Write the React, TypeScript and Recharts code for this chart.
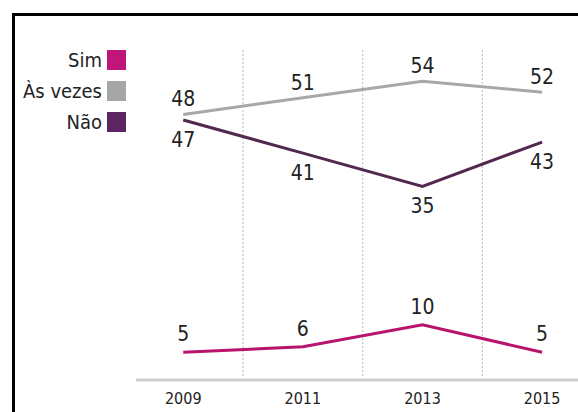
import { LineChart, Line, XAxis, YAxis, ReferenceLine, LabelList } from "recharts";

const years = [2009, 2011, 2013, 2015];
const sim = [5, 6, 10, 5];
const asVezes = [48, 51, 54, 52];
const nao = [47, 41, 35, 43];
const gridYears = [2010, 2012, 2014];

const seriesNames = ["Sim", "Às vezes", "Não"];
const seriesColors = ["#c0167a", "#a6a6a6", "#5a2560"];

const data = years.map((year, i) => ({
  year,
  sim: sim[i],
  asVezes: asVezes[i],
  nao: nao[i],
}));

const FONT = "'DejaVu Sans Condensed', 'Liberation Sans Narrow', 'DejaVu Sans', sans-serif";
const labelStyle = { fill: "#222", fontSize: 21, fontFamily: FONT, fontStretch: "condensed" };

export default function App() {
  return (
    <div style={{ position: "absolute", left: 0, top: 0, width: 578, height: 412, overflow: "hidden", background: "#fff" }}>
      <div
        style={{
          position: "absolute",
          left: 12,
          top: 13,
          width: 566,
          height: 399,
          borderTop: "3px solid #000",
          borderLeft: "3px solid #000",
          boxSizing: "border-box",
        }}
      />
      <div
        style={{
          position: "absolute",
          left: 0,
          top: 44,
          width: 126,
          fontFamily: FONT,
          fontStretch: "condensed",
          fontSize: 20,
          color: "#222",
        }}
      >
        {seriesNames.map((name, i) => (
          <div key={name} style={{ display: "flex", justifyContent: "flex-end", alignItems: "center", height: 31 }}>
            <span style={{ marginRight: 5 }}>{name}</span>
            <span style={{ width: 19, height: 20, background: seriesColors[i], display: "inline-block" }} />
          </div>
        ))}
      </div>
      <div style={{ position: "absolute", left: 0, top: 0 }}>
        <LineChart width={578} height={412} data={data} margin={{ top: 48, right: 0, bottom: 0, left: 136 }}>
          <XAxis
            dataKey="year"
            type="number"
            domain={[2008.21, 2015.6]}
            ticks={years}
            height={32}
            tickLine={false}
            tickSize={0}
            tickMargin={13}
            axisLine={{ stroke: "#cfcfcf", strokeWidth: 3 }}
            tick={{ fill: "#222", fontSize: 16, fontFamily: FONT, fontStretch: "condensed" }}
          />
          <YAxis
            width={0}
            domain={[0, 60]}
            tick={false}
            tickLine={false}
            axisLine={{ stroke: "#cfcfcf", strokeWidth: 3 }}
          />
          {gridYears.map((y) => (
            <ReferenceLine key={y} x={y} stroke="#b8b8b8" strokeDasharray="2 2" strokeWidth={1} />
          ))}
          <Line dataKey="sim" stroke="#b8146e" strokeWidth={3} dot={false} isAnimationActive={false}>
            <LabelList dataKey="sim" position="top" offset={11} style={labelStyle} />
          </Line>
          <Line dataKey="asVezes" stroke="#a8a8a8" strokeWidth={3} dot={false} isAnimationActive={false}>
            <LabelList dataKey="asVezes" position="top" offset={8} style={labelStyle} />
          </Line>
          <Line dataKey="nao" stroke="#52284f" strokeWidth={3} dot={false} isAnimationActive={false}>
            <LabelList dataKey="nao" position="bottom" offset={12} style={labelStyle} />
          </Line>
        </LineChart>
      </div>
    </div>
  );
}
